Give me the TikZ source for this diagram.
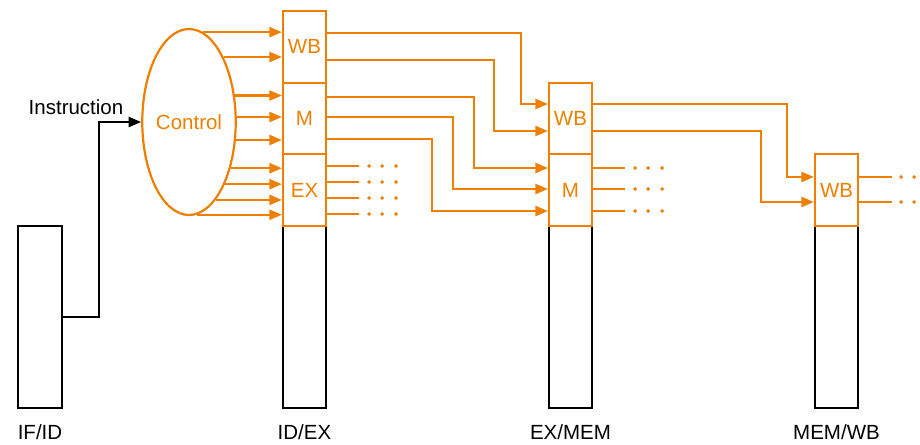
\documentclass[tikz,border=0pt]{standalone}
\usepackage{fontspec}
\setmainfont{Liberation Sans}
\usetikzlibrary{shapes.geometric,arrows.meta}
\definecolor{ctlorange}{RGB}{238,127,0}
\begin{document}
\begin{tikzpicture}[x=1pt, y=-1pt, font=\fontsize{20.5}{24}\selectfont, reg/.style={draw, line width=2.2pt, minimum width=43pt, minimum height=182pt, inner sep=0pt}, sect/.style={draw=ctlorange, text=ctlorange, line width=2.2pt, minimum width=43pt, minimum height=71.67pt, inner sep=0pt}, ctl/.style={draw=ctlorange, text=ctlorange, ellipse, line width=2.2pt, minimum width=88pt, minimum height=186pt, inner sep=0pt}, o/.style={draw=ctlorange, line width=2.2pt}, n/.style={-{Triangle[length=12.5pt,width=10pt]}, line width=2.2pt}, lbl/.style={anchor=base}]
            \useasboundingbox (0,0) rectangle (920,444);
            % pipeline registers
            \node[reg, minimum width=44pt] (ifid) at (40,317) {};
            \node[reg] (idreg) at (304.5,317) {};
            \node[reg] (exreg) at (570.5,317) {};
            \node[reg] (mwreg) at (836.5,317) {};
            % control fields
            \node[sect] (idwb) at (304.5,46.8) {WB};
            \node[sect] (idm) at (304.5,118.5) {M};
            \node[sect] (idex) at (304.5,190.2) {EX};
            \node[sect] (exwb) at (570.5,118.5) {WB};
            \node[sect] (exm) at (570.5,190.2) {M};
            \node[sect] (mwwb) at (836.5,190.2) {WB};
            \node[ctl] (ctl) at (189,122) {Control};
            % labels
            \node[lbl] (linstr) at (76,114) {Instruction};
            \node[lbl] (lifid) at (ifid.south |- 0,439) {IF/ID};
            \node[lbl] (lidex) at (idreg.south |- 0,439) {ID/EX};
            \node[lbl] (lexmem) at (exreg.south |- 0,439) {EX/MEM};
            \node[lbl] (lmemwb) at (mwreg.south |- 0,439) {MEM/WB};
            % edges
            \draw[n] (ifid.east) -- ++(36,0) |- (ctl.west);
            \foreach \yy in {33,60,97,117,139,166,182,198,214}{
                \pgfmathsetmacro\dy{122-\yy}
                \pgfmathsetmacro\ang{atan2(\dy, 44*sqrt(1-(\dy/93)^2))}
                \draw[o, n] (ctl.\ang) -- (ctl.\ang -| idwb.west);
            }
            \foreach \ya/\xm/\yb in {33/521/104, 60/494/131}
                \draw[o, n] (idwb.east |- 0,\ya) -| (\xm,\yb) -- (exwb.west |- 0,\yb);
            \foreach \ya/\xm/\yb in {97/474/168, 117/453/189, 139/432/211}
                \draw[o, n] (idm.east |- 0,\ya) -| (\xm,\yb) -- (exm.west |- 0,\yb);
            \foreach \ya/\xm/\yb in {104/787/177, 131/761/202}
                \draw[o, n] (exwb.east |- 0,\ya) -| (\xm,\yb) -- (mwwb.west |- 0,\yb);
            % dots
            \foreach \yy in {166,182,198,214}{
                \draw[o] (idex.east |- 0,\yy) -- ++(32,0);
                \foreach \dx in {42,55,69} \fill[ctlorange] (idex.east |- 0,\yy) ++(\dx,0) circle (1.9pt);
            }
            \foreach \yy in {168,189,211}{
                \draw[o] (exm.east |- 0,\yy) -- ++(32,0);
                \foreach \dx in {42,55,69} \fill[ctlorange] (exm.east |- 0,\yy) ++(\dx,0) circle (1.9pt);
            }
            \foreach \yy in {177,202}{
                \draw[o] (mwwb.east |- 0,\yy) -- ++(33,0);
                \foreach \dx in {42,55} \fill[ctlorange] (mwwb.east |- 0,\yy) ++(\dx,0) circle (1.9pt);
            }
        \end{tikzpicture}
\end{document}
